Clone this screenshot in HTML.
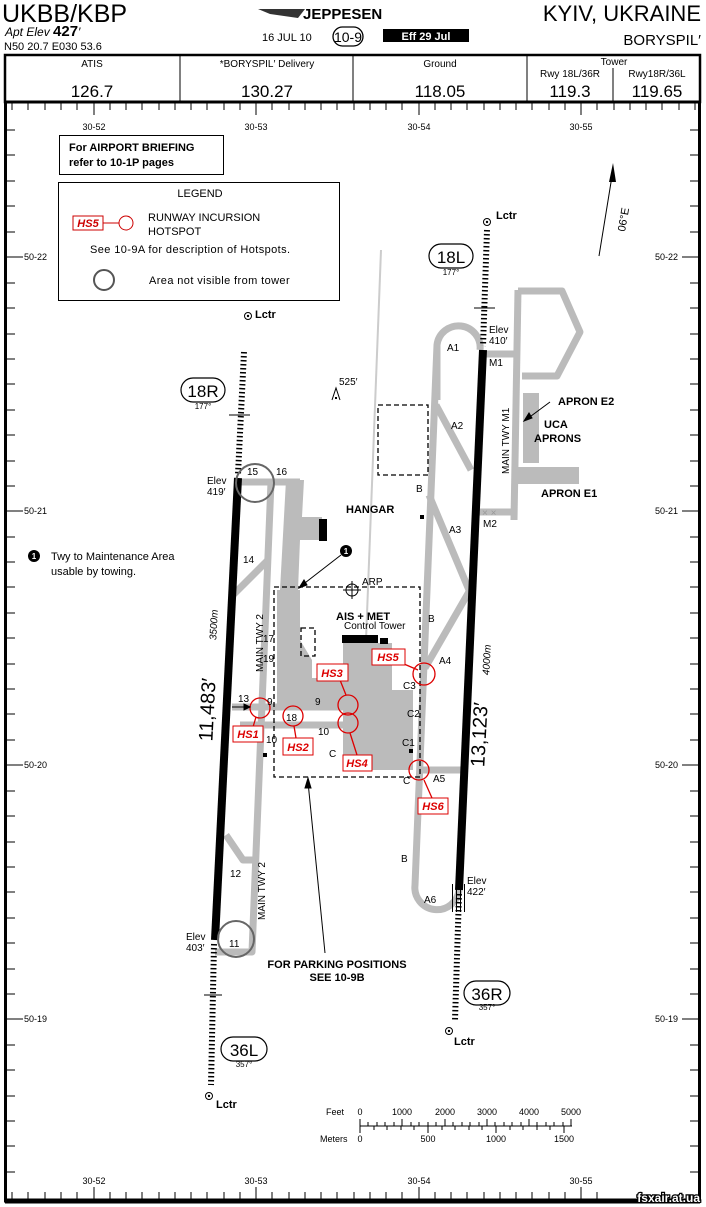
<!DOCTYPE html>
<html><head><meta charset="utf-8"><style>
html,body{margin:0;padding:0;background:#fff;}
svg{display:block;font-family:"Liberation Sans",sans-serif;}
</style></head><body>
<svg width="706" height="1207" viewBox="0 0 706 1207" xmlns="http://www.w3.org/2000/svg">
<!-- header -->
<text x="2" y="22" font-size="25" font-family="Liberation Sans Narrow, Liberation Sans">UKBB/KBP</text>
<text x="5" y="36" font-size="12" font-style="italic">Apt Elev <tspan font-weight="bold" font-size="15" font-style="normal">427</tspan>′</text>
<text x="4" y="50" font-size="11">N50 20.7  E030 53.6</text>
<path d="M258 9 L305 9 L298 18 L270 14 Z" fill="#333"/>
<text x="303" y="19" font-size="15" font-weight="bold">JEPPESEN</text>
<text x="262" y="41" font-size="11">16 JUL 10</text>
<rect x="333" y="27" width="30" height="19" rx="9.5" fill="none" stroke="#000" stroke-width="1.3"/>
<text x="348" y="42" font-size="14" text-anchor="middle">10-9</text>
<rect x="383" y="29" width="86" height="13" fill="#000"/>
<text x="426" y="40" font-size="11" font-weight="bold" fill="#fff" text-anchor="middle">Eff 29 Jul</text>
<text x="701" y="21" font-size="22" text-anchor="end">KYIV, UKRAINE</text>
<text x="701" y="45" font-size="15" text-anchor="end">BORYSPIL′</text>
<!-- freq box -->
<rect x="5" y="55" width="695" height="47" fill="none" stroke="#000" stroke-width="2.5"/>
<g stroke="#000" stroke-width="1"><line x1="180" y1="55" x2="180" y2="102"/><line x1="353" y1="55" x2="353" y2="102"/><line x1="527" y1="55" x2="527" y2="102"/><line x1="613" y1="68" x2="613" y2="102"/></g>
<g font-size="10" text-anchor="middle"><text x="92" y="67">ATIS</text><text x="267" y="67">*BORYSPIL′ Delivery</text><text x="440" y="67">Ground</text><text x="614" y="65">Tower</text><text x="570" y="77">Rwy 18L/36R</text><text x="657" y="77">Rwy18R/36L</text></g>
<g font-size="17" text-anchor="middle"><text x="92" y="97">126.7</text><text x="267" y="97">130.27</text><text x="440" y="97">118.05</text><text x="570" y="97">119.3</text><text x="657" y="97">119.65</text></g>
<!-- frame -->
<rect x="5.5" y="102" width="694" height="1099" fill="none" stroke="#000" stroke-width="3"/>
<line x1="5" y1="1201" x2="700" y2="1201" stroke="#000" stroke-width="5"/>
<g stroke="#000" stroke-width="1">
<path d="M12 103v7M28 103v7M45 103v7M61 103v7M77 103v7M94 103v12M110 103v7M126 103v7M142 103v7M159 103v7M175 103v7M191 103v7M207 103v7M224 103v7M240 103v7M256 103v12M272 103v7M289 103v7M305 103v7M321 103v7M337 103v7M354 103v7M370 103v7M386 103v7M402 103v7M419 103v12M435 103v7M451 103v7M467 103v7M484 103v7M500 103v7M516 103v7M532 103v7M549 103v7M565 103v7M581 103v12M597 103v7M614 103v7M630 103v7M646 103v7M662 103v7M679 103v7M695 103v7"/>
<path d="M12 1199v-7M28 1199v-7M45 1199v-7M61 1199v-7M77 1199v-7M94 1199v-12M110 1199v-7M126 1199v-7M142 1199v-7M159 1199v-7M175 1199v-7M191 1199v-7M207 1199v-7M224 1199v-7M240 1199v-7M256 1199v-12M272 1199v-7M289 1199v-7M305 1199v-7M321 1199v-7M337 1199v-7M354 1199v-7M370 1199v-7M386 1199v-7M402 1199v-7M419 1199v-12M435 1199v-7M451 1199v-7M467 1199v-7M484 1199v-7M500 1199v-7M516 1199v-7M532 1199v-7M549 1199v-7M565 1199v-7M581 1199v-12M597 1199v-7"/>
<path d="M7 130h8M7 155h8M7 181h8M7 206h8M7 232h8M7 257h16M7 283h8M7 308h8M7 334h8M7 359h8M7 384h8M7 410h8M7 435h8M7 461h8M7 486h8M7 511h16M7 537h8M7 562h8M7 587h8M7 613h8M7 638h8M7 664h8M7 689h8M7 714h8M7 740h8M7 765h16M7 791h8M7 816h8M7 842h8M7 867h8M7 892h8M7 918h8M7 943h8M7 969h8M7 994h8M7 1019h16M7 1045h8M7 1070h8M7 1096h8M7 1121h8M7 1146h8M7 1172h8"/>
<path d="M698 130h-8M698 155h-8M698 181h-8M698 206h-8M698 232h-8M698 257h-16M698 283h-8M698 308h-8M698 334h-8M698 359h-8M698 384h-8M698 410h-8M698 435h-8M698 461h-8M698 486h-8M698 511h-16M698 537h-8M698 562h-8M698 587h-8M698 613h-8M698 638h-8M698 664h-8M698 689h-8M698 714h-8M698 740h-8M698 765h-16M698 791h-8M698 816h-8M698 842h-8M698 867h-8M698 892h-8M698 918h-8M698 943h-8M698 969h-8M698 994h-8M698 1019h-16M698 1045h-8M698 1070h-8M698 1096h-8M698 1121h-8M698 1146h-8M698 1172h-8"/>
</g>
<g font-size="9" text-anchor="middle"><text x="94" y="130">30-52</text><text x="256" y="130">30-53</text><text x="419" y="130">30-54</text><text x="581" y="130">30-55</text>
<text x="94" y="1184">30-52</text><text x="256" y="1184">30-53</text><text x="419" y="1184">30-54</text><text x="581" y="1184">30-55</text></g>
<g font-size="9"><text x="24" y="260">50-22</text><text x="24" y="514">50-21</text><text x="24" y="768">50-20</text><text x="24" y="1022">50-19</text>
<text x="655" y="260">50-22</text><text x="655" y="514">50-21</text><text x="655" y="768">50-20</text><text x="655" y="1022">50-19</text></g>
<!-- boxes -->
<rect x="59.5" y="135.5" width="164" height="39" fill="none" stroke="#000"/>
<text x="69" y="151" font-size="11" font-weight="bold">For AIRPORT BRIEFING</text>
<text x="69" y="166" font-size="11" font-weight="bold">refer to 10-1P pages</text>
<rect x="58.5" y="182.5" width="281" height="118" fill="none" stroke="#000"/>
<text x="200" y="197" font-size="11" text-anchor="middle">LEGEND</text>
<rect x="73" y="216" width="30" height="14" fill="#fff" stroke="#c00"/>
<text x="88" y="227" font-size="11" font-weight="bold" font-style="italic" fill="#c00" text-anchor="middle">HS5</text>
<line x1="103" y1="223" x2="119" y2="223" stroke="#c00"/><circle cx="126" cy="223" r="7" fill="none" stroke="#c00"/>
<text x="148" y="221" font-size="11">RUNWAY INCURSION</text><text x="148" y="235" font-size="11">HOTSPOT</text>
<text x="90" y="253" font-size="11" letter-spacing="0.4">See 10-9A for description of Hotspots.</text>
<circle cx="104" cy="280" r="10" fill="none" stroke="#555" stroke-width="2"/>
<text x="149" y="284" font-size="11" letter-spacing="0.4">Area not visible from tower</text>
<circle cx="34" cy="556" r="6" fill="#000"/><text x="34" y="559" font-size="8" fill="#fff" text-anchor="middle" font-weight="bold">1</text>
<text x="51" y="560" font-size="11">Twy to Maintenance Area</text><text x="51" y="575" font-size="11">usable by towing.</text>
<!-- grey line -->
<line x1="381" y1="250" x2="366" y2="640" stroke="#ccc" stroke-width="2"/>
<!-- taxiways -->
<g stroke="#bbb" stroke-width="7" fill="none" stroke-linejoin="round">
<path d="M238 482 H300"/>
<path d="M271 482 L252 952 H215"/>
<path d="M226 835 L243 860 H253"/>
<path d="M233 595 L268 560"/>
<path d="M232 707 H345"/>
<path d="M240 725 H345"/>
<path d="M437 400 V345 A20 20 0 0 1 480 350"/>
<path d="M437 345 L415 885 A22 22 0 0 0 459 890"/>
<path d="M436 405 L471 470"/>
<path d="M429 495 L469 590"/>
<path d="M470 590 L425 668"/>
<path d="M418 770 H465"/>
<path d="M483 354 H520"/>
<path d="M518 290 L514 520"/>
<path d="M478 512 H515"/>
<path d="M518 291 H562 L580 332 L557 376 H522"/>
</g>
<g fill="#bbb">
<rect x="523" y="393" width="16" height="70"/><rect x="513" y="467" width="66" height="17"/>
<path d="M286 480 H304 L302 517 H322 L322 540 H300 L298 590 L280 590 Z"/>
<path d="M277 590 H300 L300 640 L312 660 L312 678 L360 678 L360 704 L277 704 Z"/>
<path d="M343 643 H392 V690 H413 V770 H372 V760 H343 Z"/>
</g>
<rect x="319" y="519" width="8" height="22" fill="#000"/>
<rect x="342" y="635" width="36" height="8" fill="#000"/><rect x="380" y="638" width="8" height="6" fill="#000"/>
<rect x="420" y="515" width="4" height="4" fill="#000"/><rect x="409" y="749" width="4" height="4" fill="#000"/><rect x="263" y="753" width="4" height="4" fill="#000"/>
<text x="482" y="516" font-size="10" fill="#999">×  ×</text>
<!-- dashed boxes -->
<g fill="none" stroke="#000" stroke-dasharray="5,3" stroke-width="1.3">
<rect x="274" y="587" width="146" height="190"/>
<rect x="378" y="405" width="50" height="70"/>
<rect x="301" y="628" width="14" height="28"/>
</g>
<!-- runways -->
<line x1="238" y1="478" x2="215" y2="940" stroke="#000" stroke-width="8"/>
<line x1="483" y1="350" x2="459" y2="890" stroke="#000" stroke-width="8"/>
<g stroke="#000" stroke-width="1" stroke-dasharray="1.5,2.5">
<line x1="244" y1="352" x2="238" y2="474" stroke-width="6"/>
<line x1="214" y1="944" x2="211" y2="1085" stroke-width="6"/>
<line x1="487" y1="230" x2="483" y2="346" stroke-width="6"/>
<line x1="459" y1="894" x2="455" y2="1020" stroke-width="6"/>
<line x1="452" y1="898" x2="466" y2="898" stroke-width="28" stroke-dasharray="1,3"/>
</g>
<g stroke="#000"><line x1="229" y1="415" x2="250" y2="415"/><line x1="204" y1="995" x2="222" y2="995"/><line x1="474" y1="308" x2="495" y2="308"/></g>
<g font-size="20" text-anchor="middle">
<text transform="translate(214,710) rotate(-87)">11,483′</text>
<text transform="translate(486,735) rotate(-87)">13,123′</text></g>
<g font-size="10" font-style="italic" text-anchor="middle">
<text transform="translate(217,625) rotate(-87)">3500m</text>
<text transform="translate(490,660) rotate(-87)">4000m</text></g>
<!-- rwy ovals -->
<g fill="#fff" stroke="#000" stroke-width="1.2">
<rect x="181" y="378" width="44" height="24" rx="12"/><rect x="429" y="244" width="44" height="24" rx="12"/>
<rect x="464" y="981" width="46" height="24" rx="12"/><rect x="221" y="1037" width="46" height="24" rx="12"/></g>
<g font-size="17" text-anchor="middle"><text x="203" y="397">18R</text><text x="451" y="263">18L</text><text x="487" y="1000">36R</text><text x="244" y="1056">36L</text></g>
<g font-size="8" text-anchor="middle"><text x="203" y="409">177°</text><text x="451" y="275">177°</text><text x="487" y="1010">357°</text><text x="244" y="1067">357°</text></g>
<!-- Lctr -->
<g fill="none" stroke="#000"><circle cx="248" cy="316" r="3.5"/><circle cx="487" cy="222" r="3.5"/><circle cx="449" cy="1031" r="3.5"/><circle cx="209" cy="1096" r="3.5"/></g>
<g fill="#000"><circle cx="248" cy="316" r="1.2"/><circle cx="487" cy="222" r="1.2"/><circle cx="449" cy="1031" r="1.2"/><circle cx="209" cy="1096" r="1.2"/></g>
<g font-size="11" font-weight="bold"><text x="255" y="318">Lctr</text><text x="496" y="219">Lctr</text><text x="454" y="1045">Lctr</text><text x="216" y="1108">Lctr</text></g>
<!-- north arrow -->
<line x1="599" y1="256" x2="613" y2="170" stroke="#000"/><path d="M613 163 L609 182 L616 182 Z" fill="#000"/>
<text transform="translate(625,232) rotate(-80)" font-size="11">06°E</text>
<!-- obstacle, ARP -->
<path d="M332 400 L336 388 L340 400" fill="none" stroke="#000"/><rect x="335" y="397" width="2" height="2"/>
<text x="339" y="385" font-size="10">525′</text>
<circle cx="352" cy="590" r="6" fill="none" stroke="#000"/><path d="M343 590h18M352 581v18" stroke="#000"/>
<text x="362" y="585" font-size="10">ARP</text>
<!-- not visible circles -->
<g fill="none" stroke="#666" stroke-width="2"><circle cx="255" cy="483" r="19"/><circle cx="236" cy="939" r="18"/></g>
<!-- hotspots -->
<g fill="none" stroke="#d00" stroke-width="1.3">
<circle cx="260" cy="708" r="10"/><circle cx="293" cy="716" r="10"/><circle cx="348" cy="705" r="10"/><circle cx="348" cy="723" r="10"/><circle cx="424" cy="674" r="11"/><circle cx="419" cy="770" r="10"/>
<path d="M404 664 L418 670M340 680 L346 695M253 727 L256 717M296 738 L294 726M357 755 L350 733M432 798 L424 780"/>
</g>
<g fill="#fff" stroke="#d00"><rect x="372" y="649" width="33" height="16"/><rect x="317" y="664" width="31" height="17"/><rect x="233" y="726" width="30" height="16"/><rect x="283" y="738" width="30" height="17"/><rect x="343" y="755" width="29" height="16"/><rect x="418" y="798" width="30" height="16"/></g>
<g font-size="11" font-weight="bold" font-style="italic" fill="#d00" text-anchor="middle"><text x="388" y="661">HS5</text><text x="332" y="677">HS3</text><text x="248" y="738">HS1</text><text x="298" y="751">HS2</text><text x="357" y="767">HS4</text><text x="433" y="810">HS6</text></g>
<!-- labels -->
<g font-size="10">
<text x="247" y="475">15</text><text x="276" y="475">16</text><text x="243" y="563">14</text><text x="263" y="642">17</text><text x="263" y="662">19</text><text x="238" y="702">13</text><text x="267" y="705">9</text><text x="315" y="705">9</text><text x="286" y="721">18</text><text x="266" y="743">10</text><text x="318" y="735">10</text><text x="329" y="757">C</text><text x="230" y="877">12</text><text x="229" y="947">11</text>
<text x="447" y="351">A1</text><text x="451" y="429">A2</text><text x="416" y="492">B</text><text x="449" y="533">A3</text><text x="428" y="622">B</text><text x="439" y="664">A4</text><text x="403" y="689">C3</text><text x="407" y="717">C2</text><text x="402" y="746">C1</text><text x="403" y="784">C</text><text x="433" y="782">A5</text><text x="401" y="862">B</text><text x="424" y="903">A6</text><text x="489" y="366">M1</text><text x="483" y="527">M2</text>
<text x="207" y="484">Elev</text><text x="207" y="495">419′</text><text x="489" y="333">Elev</text><text x="489" y="344">410′</text><text x="186" y="940">Elev</text><text x="186" y="951">403′</text><text x="467" y="884">Elev</text><text x="467" y="895">422′</text>
<text transform="translate(263,672) rotate(-90)">MAIN TWY 2</text>
<text transform="translate(265,920) rotate(-90)">MAIN TWY 2</text>
<text transform="translate(509,474) rotate(-90)">MAIN TWY M1</text>
<text x="344" y="629">Control Tower</text>
</g>
<g font-size="11" font-weight="bold"><text x="346" y="513">HANGAR</text><text x="336" y="620">AIS + MET</text><text x="558" y="405">APRON E2</text><text x="544" y="428">UCA</text><text x="534" y="442">APRONS</text><text x="541" y="497">APRON E1</text>
<text x="337" y="968" text-anchor="middle">FOR PARKING POSITIONS</text><text x="337" y="981" text-anchor="middle">SEE 10-9B</text></g>
<circle cx="346" cy="551" r="6" fill="#000"/><text x="346" y="554" font-size="8" fill="#fff" text-anchor="middle" font-weight="bold">1</text>
<g stroke="#000" fill="#000"><line x1="341" y1="555" x2="301" y2="586"/><path d="M299 588 L304 580 L307 585 Z"/>
<line x1="325" y1="953" x2="308" y2="782"/><path d="M308 778 L305 788 L311 788 Z"/>
<line x1="550" y1="402" x2="527" y2="419"/><path d="M524 421 L529 413 L532 418 Z"/>
<line x1="232" y1="707" x2="247" y2="707"/><path d="M250 707 L244 704 L244 710 Z"/></g>
<!-- scale -->
<g font-size="9"><text x="326" y="1115">Feet</text><text x="320" y="1142">Meters</text></g>
<g font-size="9" text-anchor="middle"><text x="360" y="1115">0</text><text x="402" y="1115">1000</text><text x="445" y="1115">2000</text><text x="487" y="1115">3000</text><text x="529" y="1115">4000</text><text x="571" y="1115">5000</text>
<text x="360" y="1142">0</text><text x="428" y="1142">500</text><text x="496" y="1142">1000</text><text x="564" y="1142">1500</text></g>
<g stroke="#000"><line x1="360" y1="1126" x2="572" y2="1126"/>
<path d="M360 1119v7M402 1119v7M445 1119v7M487 1119v7M529 1119v7M571 1119v7M368 1122v4M377 1122v4M385 1122v4M394 1122v4M411 1122v4M419 1122v4M428 1122v4M436 1122v4M453 1122v4M462 1122v4M470 1122v4M479 1122v4M495 1122v4M504 1122v4M512 1122v4M521 1122v4M537 1122v4M546 1122v4M554 1122v4M563 1122v4"/>
<path d="M360 1126v7M428 1126v7M496 1126v7M564 1126v7M374 1126v4M387 1126v4M401 1126v4M414 1126v4M442 1126v4M455 1126v4M469 1126v4M482 1126v4M510 1126v4M523 1126v4M537 1126v4M550 1126v4"/></g>
<text x="700" y="1202" font-size="12" font-weight="bold" fill="#fff" stroke="#000" stroke-width="2.5" paint-order="stroke" text-anchor="end">fsxair.at.ua</text>
</svg>
</body></html>
